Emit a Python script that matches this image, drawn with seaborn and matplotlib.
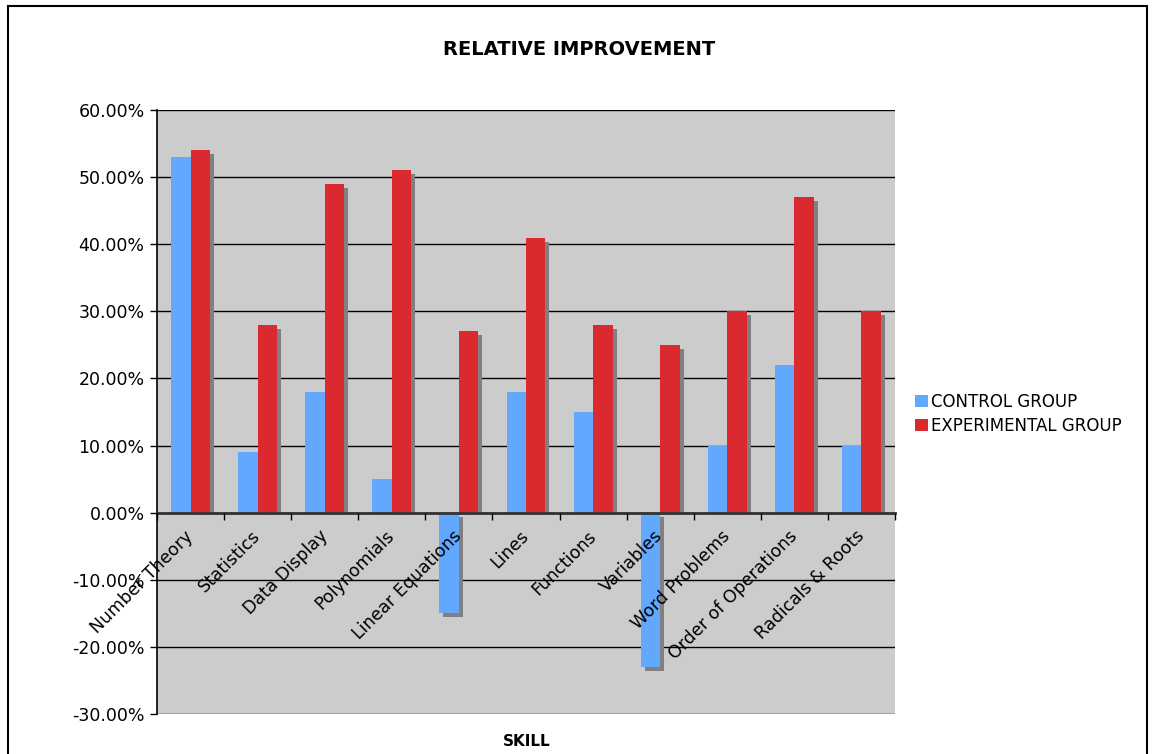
import numpy as np
import pandas as pd
import matplotlib
matplotlib.use('Agg')
import matplotlib.pyplot as plt
import matplotlib.transforms as mtransforms
from matplotlib.patches import Rectangle
import seaborn as sns

skills = ['Number Theory', 'Statistics', 'Data Display', 'Polynomials', 'Linear Equations',
          'Lines', 'Functions', 'Variables', 'Word Problems', 'Order of Operations',
          'Radicals & Roots']
control = [53, 9, 18, 5, -15, 18, 15, -23, 10, 22, 10]
experimental = [54, 28, 49, 51, 27, 41, 28, 25, 30, 47, 30]
groups = ['CONTROL GROUP', 'EXPERIMENTAL GROUP']
yticks = [-30, -20, -10, 0, 10, 20, 30, 40, 50, 60]

sns.set_theme(style='white')
plt.rcParams['font.family'] = ['DejaVu Sans']
plt.rcParams['axes.unicode_minus'] = False
plt.rcParams['text.color'] = 'black'
plt.rcParams['xtick.color'] = 'black'
plt.rcParams['ytick.color'] = 'black'

df = pd.DataFrame({'skill': skills * 2,
                   'group': [groups[0]] * len(skills) + [groups[1]] * len(skills),
                   'value': control + experimental})

fig = plt.figure(figsize=(11.52, 7.54), dpi=100)
ax = fig.add_axes([0.1363, 0.0531, 0.7769 - 0.1363, 0.8541 - 0.0531])
ax.set_facecolor('#CCCCCC')
ax.set_axisbelow(False)

sns.barplot(data=df, x='skill', y='value', hue='group', order=skills, hue_order=groups,
            palette=['#62A8FF', '#DA2A30'], width=0.58, gap=0, saturation=1,
            linewidth=0, ax=ax, zorder=1.5, legend=True)

ax.set_ylim(-30, 60)
ax.set_xlim(-0.5, len(skills) - 0.5)

# drop shadows behind each bar (positive bars clipped at the zero line)
shift = mtransforms.ScaledTranslation(4 / 100, -4 / 100, fig.dpi_scale_trans)
above = Rectangle((-0.5, 0), len(skills), 60, transform=ax.transData)
for p in list(ax.patches):
    sh = Rectangle(p.get_xy(), p.get_width(), p.get_height(), transform=ax.transData + shift,
                   facecolor='#808080', linewidth=0, zorder=1.2)
    ax.add_patch(sh)
    if p.get_height() > 0:
        sh.set_clip_path(above)

ax.set_yticks(yticks)
ax.set_yticklabels([f'{v:.2f}%' for v in yticks], fontsize=12.5)
for v in yticks:
    ax.axhline(v, color='black', linewidth=1, zorder=0.8)

# category boundaries as ticks, names on minor ticks
ax.spines['bottom'].set_position(('data', 0))
ax.set_xticks(np.arange(len(skills) + 1) - 0.5)
ax.set_xticklabels([])
ax.set_xticks(np.arange(len(skills)), minor=True)
ax.set_xticklabels(skills, minor=True, rotation=45, ha='right', va='center',
                   rotation_mode='anchor', fontsize=12.5)
ax.tick_params(axis='x', which='major', direction='out', length=5, width=1, bottom=True)
ax.tick_params(axis='x', which='minor', length=0, pad=15, bottom=True)
ax.tick_params(axis='y', direction='out', length=5, width=1, left=True, pad=4)
for s in ['top', 'right']:
    ax.spines[s].set_visible(False)
ax.spines['left'].set_color('black')
ax.spines['left'].set_linewidth(1.2)
ax.spines['bottom'].set_color('#333333')
ax.spines['bottom'].set_linewidth(2)
ax.set_xlabel('')
ax.set_ylabel('')

handles, labels = ax.get_legend_handles_labels()
ax.legend(handles, labels, frameon=False, loc='center left', bbox_to_anchor=(0.7885, 0.451),
          bbox_transform=fig.transFigure, fontsize=12, handlelength=0.75, handleheight=0.75,
          handletextpad=0.2, labelspacing=0.35, borderaxespad=0)

fig.text(0.503, 0.934, 'RELATIVE IMPROVEMENT', ha='center', va='center', fontsize=14, fontweight='bold')
fig.text(0.457, 0.016, 'SKILL', ha='center', va='center', fontsize=11, fontweight='bold')

fig.patches.append(Rectangle((0.007, -0.02), 0.989, 1.012, transform=fig.transFigure,
                             fill=False, edgecolor='black', linewidth=1.5, zorder=10))

fig.savefig('out.png', dpi=100)
